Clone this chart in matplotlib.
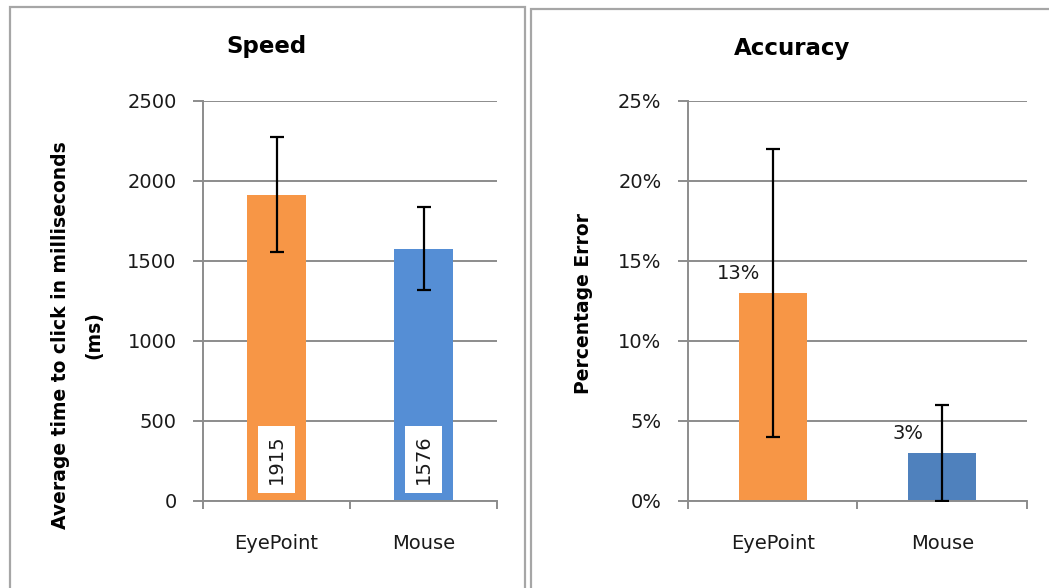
import matplotlib
matplotlib.use("Agg")
import matplotlib.pyplot as plt
from matplotlib.patches import Rectangle
from matplotlib.ticker import FuncFormatter, FixedLocator

# ---- data ----
categories = ["EyePoint", "Mouse"]
speed_ms = [1915, 1576]
speed_err = [360, 260]
speed_ticks = [0, 500, 1000, 1500, 2000, 2500]
accuracy_pct = [13, 3]
accuracy_err = [9, 3]
accuracy_ticks = [0, 5, 10, 15, 20, 25]

orange = "#F79646"
blue_left = "#558ED5"
blue_right = "#4F81BD"
grid_c = "#8C8C8C"
text_c = "#1A1A1A"

plt.rcParams["font.family"] = ["DejaVu Sans"]

W, H = 1049, 588
fig = plt.figure(figsize=(W / 100, H / 100), dpi=100)
fig.patch.set_facecolor("white")

def fx(px):
    return px / W

def fy(py):
    return (H - py) / H

# panel borders
fig.patches.append(Rectangle((fx(10), -0.1), fx(525) - fx(10), fy(7) + 0.1,
                             transform=fig.transFigure, fill=False,
                             edgecolor="#A6A6A6", lw=1.6, zorder=0))
fig.patches.append(Rectangle((fx(531), -0.1), 0.8, fy(9) + 0.1,
                             transform=fig.transFigure, fill=False,
                             edgecolor="#A6A6A6", lw=1.6, zorder=0))

def style_axes(ax, ticks, fmt):
    ax.set_xlim(-0.5, 1.5)
    ax.set_ylim(ticks[0], ticks[-1])
    ax.set_yticks(ticks)
    ax.yaxis.set_major_formatter(FuncFormatter(fmt))
    ax.set_xticks(range(len(categories)))
    ax.set_xticklabels(categories)
    ax.xaxis.set_minor_locator(FixedLocator([-0.5, 0.5, 1.5]))
    ax.tick_params(axis="x", which="major", length=0, pad=24,
                   labelsize=14, labelcolor=text_c)
    ax.tick_params(axis="x", which="minor", length=6, width=1.4,
                   color=grid_c, direction="out")
    ax.tick_params(axis="y", which="major", length=7, width=1.4,
                   color=grid_c, pad=12, labelsize=14, labelcolor=text_c)
    for s in ["top", "right"]:
        ax.spines[s].set_visible(False)
    for s in ["left", "bottom"]:
        ax.spines[s].set_color(grid_c)
        ax.spines[s].set_linewidth(1.4)
    ax.grid(axis="y", color=grid_c, lw=1.4)
    ax.set_axisbelow(True)
    ax.set_facecolor("none")

# ---- Speed ----
ax1 = fig.add_axes([fx(203), fy(501), fx(497) - fx(203), fy(101) - fy(501)])
style_axes(ax1, speed_ticks, lambda v, p: f"{v:.0f}")
ax1.bar(range(len(categories)), speed_ms, width=0.4,
        color=[orange, blue_left], zorder=2)
ax1.errorbar(range(len(categories)), speed_ms, yerr=speed_err, fmt="none",
             ecolor="black", elinewidth=1.6, capsize=5, capthick=1.6, zorder=3)
for i, v in enumerate(speed_ms):
    ax1.text(i, 262, f"{v}", rotation=90, ha="center", va="center",
             fontsize=14, color=text_c, zorder=4,
             bbox=dict(boxstyle="square,pad=0.45", fc="white", ec="none"))

fig.text(fx(266), fy(47), "Speed", ha="center", va="center",
         fontsize=16.5, fontweight="bold", color="black")
fig.text(fx(61), fy(335), "Average time to click in milliseconds",
         rotation=90, ha="center", va="center", fontsize=13.5,
         fontweight="bold", color="black")
fig.text(fx(94), fy(335), "(ms)", rotation=90, ha="center", va="center",
         fontsize=13.5, fontweight="bold", color="black")

# ---- Accuracy ----
ax2 = fig.add_axes([fx(688), fy(501), fx(1027) - fx(688), fy(101) - fy(501)])
style_axes(ax2, accuracy_ticks, lambda v, p: f"{v:.0f}%")
ax2.bar(range(len(categories)), accuracy_pct, width=0.4,
        color=[orange, blue_right], zorder=2)
ax2.errorbar(range(len(categories)), accuracy_pct, yerr=accuracy_err,
             fmt="none", ecolor="black", elinewidth=1.6, capsize=5,
             capthick=1.6, zorder=3)
for i, v in enumerate(accuracy_pct):
    ax2.annotate(f"{v}%", xy=(i - 0.2, v), xytext=(0, 7),
                 textcoords="offset points", ha="center", va="bottom",
                 fontsize=14, color=text_c, zorder=4)

fig.text(fx(792), fy(48), "Accuracy", ha="center", va="center",
         fontsize=16.5, fontweight="bold", color="black")
fig.text(fx(583.5), fy(303), "Percentage Error", rotation=90,
         ha="center", va="center", fontsize=13.5, fontweight="bold",
         color="black")

fig.savefig("out.png", dpi=100, facecolor="white")
